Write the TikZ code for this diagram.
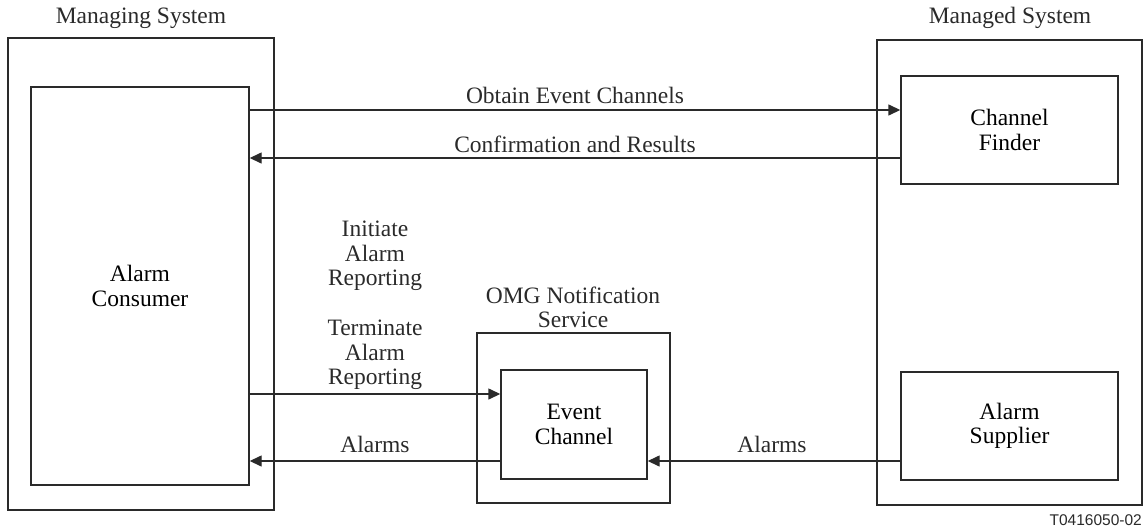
\documentclass[tikz,border=0pt]{standalone}
\usepackage{fontspec}
\setmainfont{Liberation Serif}
\newfontfamily\tagfont{Liberation Sans}
\usetikzlibrary{arrows.meta}
\definecolor{ln}{HTML}{2A2A2A}
\begin{document}
\begin{tikzpicture}[x=1pt,y=-1pt,
  box/.style={draw=ln,line width=1.4pt,rectangle,inner sep=0pt,align=center,
    font=\fontsize{23.5}{24.5}\selectfont},
  lbl/.style={align=center,inner sep=0pt,text=ln,font=\fontsize{23.5}{24.5}\selectfont},
  arr/.style={draw=ln,line width=1.4pt,-{Triangle[length=12pt,width=11pt]}}]
\useasboundingbox (0,0) rectangle (1145,530);
% outer boxes
\node[box,minimum width=266pt,minimum height=472pt] (ms) at (141,274) {};
\node[box,minimum width=265pt,minimum height=465pt] (mgd) at (1009.5,272.5) {};
\node[box,minimum width=193pt,minimum height=170pt] (omg) at (573.5,418) {};
% inner boxes
\node[box,minimum width=218pt,minimum height=398pt] (ac) at (140,286) {Alarm\\Consumer};
\node[box,minimum width=217pt,minimum height=108pt] (cf) at (1009.5,130) {Channel\\Finder};
\node[box,minimum width=217pt,minimum height=108pt] (as) at (1009.5,426) {Alarm\\Supplier};
\node[box,minimum width=146pt,minimum height=109pt] (ec) at (574,424.5) {Event\\Channel};
% titles
\node[lbl] (mst) at (141,18) {Managing System};
\node[lbl] (mgdt) at (1010,18) {Managed System};
\node[lbl] (omgt) at (573,307.5) {OMG Notification\\Service};
% rows
\coordinate (y1) at (0,110);
\coordinate (y2) at (0,158);
\coordinate (y3) at (0,394);
\coordinate (y4) at (0,461);
\draw[arr] (ac.east |- y1) -- (cf.west |- y1);
\draw[arr] (cf.west |- y2) -- (ac.east |- y2);
\draw[arr] (ac.east |- y3) -- (ec.west |- y3);
\draw[arr] (ec.west |- y4) -- (ac.east |- y4);
\draw[arr] (as.west |- y4) -- (ec.east |- y4);
% labels
\node[lbl] (l1) at (575,95) {Obtain Event Channels};
\node[lbl] (l2) at (575,144) {Confirmation and Results};
\node[lbl] (l3) at (375,256) {Initiate\\Alarm\\Reporting};
\node[lbl] (l4) at (375,355) {Terminate\\Alarm\\Reporting};
\node[lbl] (l5) at (375,444) {Alarms};
\node[lbl] (l6) at (772,444) {Alarms};
\node[anchor=base east,inner sep=0pt,text=ln,font=\tagfont\fontsize{15.5}{16}\selectfont] (tag) at (1142,525) {T0416050-02};
\end{tikzpicture}
\end{document}
